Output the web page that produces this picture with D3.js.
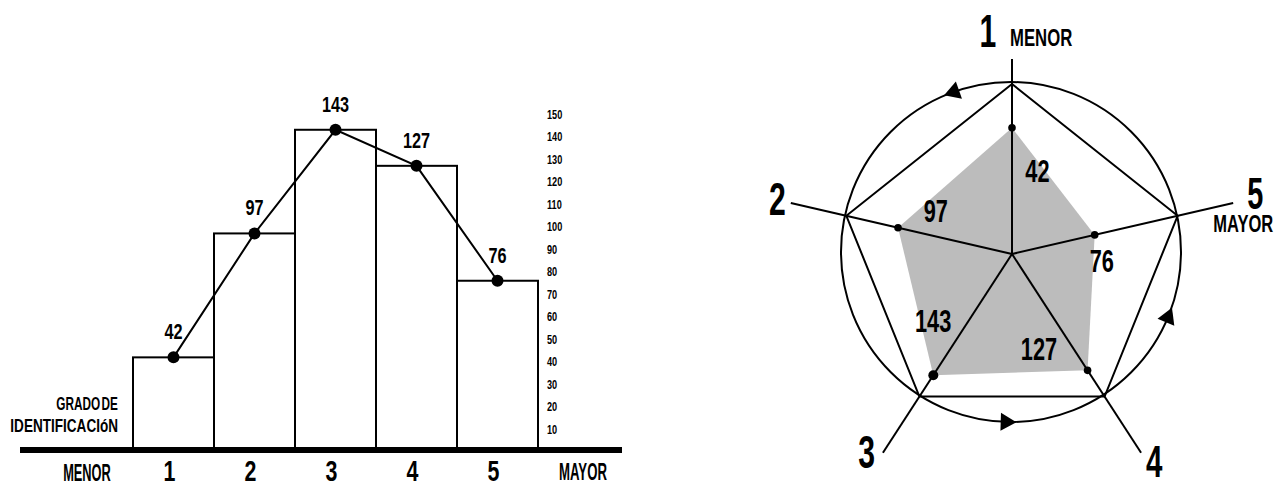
<!DOCTYPE html>
<html>
<head>
<meta charset="utf-8">
<script src="https://cdn.jsdelivr.net/npm/d3@7"></script>
<style>
  html, body { margin: 0; padding: 0; background: #fff; }
  svg { display: block; }
  text { font-family: "Liberation Sans", Arial, sans-serif; font-weight: bold; fill: #000; }
</style>
</head>
<body>
<svg id="chart" width="1282" height="487"></svg>
<script>
// ---------- data ----------
const categories = ["1", "2", "3", "4", "5"];
const values = [42, 97, 143, 127, 76];
const yTicks = [10, 20, 30, 40, 50, 60, 70, 80, 90, 100, 110, 120, 130, 140, 150];
const endLabels = ["MENOR", "MAYOR"];
const axisTitle = ["GRADO DE", "IDENTIFICACIóN"];
// radar: magnitude at which each point is drawn (on a 0–150 radius)
const radarPlotted = [110, 102, 126, 121, 74];

// ---------- helpers ----------
const svg = d3.select("#chart");
const NARROW = 0.82;   // condense factor applied to the regular font
function txt(g, x, y, s, size, anchor, sx) {
  return g.append("text")
    .attr("transform", `translate(${x},${y}) scale(${sx * NARROW},1)`)
    .attr("text-anchor", anchor)
    .attr("font-size", size)
    .text(s);
}

// ---------- left: bar + line chart ----------
const left = svg.append("g");
const x = d3.scaleBand().domain(categories).range([133, 538]).padding(0);
const y = d3.scaleLinear().domain([0, 150]).range([452, 114]);
const baseY = 450;

left.selectAll("rect.bar").data(values).join("rect")
  .attr("class", "bar")
  .attr("x", (d, i) => x(categories[i]))
  .attr("y", d => y(d))
  .attr("width", x.bandwidth())
  .attr("height", d => baseY - y(d))
  .attr("fill", "#fff").attr("stroke", "#000").attr("stroke-width", 2);

left.append("line")
  .attr("x1", 20).attr("x2", 622).attr("y1", baseY).attr("y2", baseY)
  .attr("stroke", "#000").attr("stroke-width", 6);

const cx = (d, i) => x(categories[i]) + x.bandwidth() / 2;
left.append("path")
  .datum(values)
  .attr("d", d3.line().x(cx).y(d => y(d)))
  .attr("fill", "none").attr("stroke", "#000").attr("stroke-width", 2);

left.selectAll("circle.dot").data(values).join("circle")
  .attr("class", "dot")
  .attr("cx", cx).attr("cy", d => y(d)).attr("r", 6).attr("fill", "#000");

values.forEach((v, i) => txt(left, cx(v, i), y(v) - 18, v, 22, "middle", 0.9));

// right-hand tick labels
yTicks.forEach(t => txt(left, 547, y(t) + 4.5, t, 13, "start", 0.86));

// x category labels
categories.forEach(c => txt(left, x(c) + x.bandwidth() / 2 - 4, 481, c, 29, "middle", 0.9));
txt(left, 87, 481, endLabels[0], 23, "middle", 0.68);
txt(left, 583, 480, endLabels[1], 23, "middle", 0.7);
txt(left, 118, 410, axisTitle[0], 18, "end", 0.8).attr("word-spacing", -3);
txt(left, 118, 432, axisTitle[1], 19, "end", 0.87);

// ---------- right: radar ----------
const right = svg.append("g");
const C = [1012, 254];            // axes hub
const circ = { cx: 1011, cy: 252, r: 170 };
const axisAngles = [0, -77, -147, 147, 77];   // degrees, clockwise from up
const axisLen = [195, 227, 237, 237, 227];
const rad = d3.scaleLinear().domain([0, 150]).range([0, 172]);
const toRad = a => a * Math.PI / 180;
const pt = (a, r) => [C[0] + r * Math.sin(toRad(a)), C[1] - r * Math.cos(toRad(a))];

// data polygon
const polyPts = radarPlotted.map((v, i) => pt(axisAngles[i], rad(v)));
right.append("path")
  .attr("d", d3.line()(polyPts) + "Z")
  .attr("fill", "#bcbcbc");

// circle
right.append("circle")
  .attr("cx", circ.cx).attr("cy", circ.cy).attr("r", circ.r)
  .attr("fill", "none").attr("stroke", "#000").attr("stroke-width", 2);

// pentagon
const pent = axisAngles.map(a => pt(a, 170));
right.append("path")
  .attr("d", d3.line()(pent) + "Z")
  .attr("fill", "none").attr("stroke", "#000").attr("stroke-width", 2)
  .attr("stroke-linejoin", "miter");

// axes
axisAngles.forEach((a, i) => {
  const e = pt(a, axisLen[i]);
  right.append("line")
    .attr("x1", C[0]).attr("y1", C[1]).attr("x2", e[0]).attr("y2", e[1])
    .attr("stroke", "#000").attr("stroke-width", 2);
});

// points
polyPts.forEach((p, i) => right.append("circle")
  .attr("cx", p[0]).attr("cy", p[1]).attr("r", i === 2 ? 5 : 3.8).attr("fill", "#000"));

// direction arrows on the circle (counter-clockwise)
[-19.6, 181.7, 112.6].forEach(a => {
  const t = toRad(a);
  const px = circ.cx + circ.r * Math.sin(t), py = circ.cy - circ.r * Math.cos(t);
  const dir = Math.atan2(-Math.sin(t), -Math.cos(t));
  const R = 10.5;
  const tri = [0, 120, 240].map(o => {
    const b = dir + toRad(o);
    return [px + R * Math.cos(b), py + R * Math.sin(b)];
  });
  right.append("path").attr("d", d3.line()(tri) + "Z").attr("fill", "#000");
});

// value labels
const labelOff = 17, labelR = [87, 88, 103, 98, 90];
values.forEach((v, i) => {
  const p = pt(axisAngles[i] + labelOff, labelR[i]);
  txt(right, p[0], p[1] + 11.5, v, 32, "middle", 0.83);
});

// axis numbers
const ends = axisAngles.map((a, i) => pt(a, axisLen[i]));
txt(right, ends[0][0] - 24, ends[0][1] - 12, categories[0], 46, "middle", 0.8);
txt(right, ends[0][0] - 2, ends[0][1] - 13, endLabels[0], 24, "start", 0.85);
txt(right, ends[1][0] - 5, ends[1][1] + 12, categories[1], 46, "end", 0.8);
txt(right, ends[2][0] - 8, ends[2][1] + 15, categories[2], 46, "end", 0.8);
txt(right, ends[3][0] + 5, ends[3][1] + 24, categories[3], 45, "start", 0.8);
txt(right, ends[4][0] + 14, ends[4][1] + 6, categories[4], 44, "start", 0.8);
txt(right, ends[4][0] + 40, ends[4][1] + 29, endLabels[1], 24, "end", 0.84);
</script>
</body>
</html>
